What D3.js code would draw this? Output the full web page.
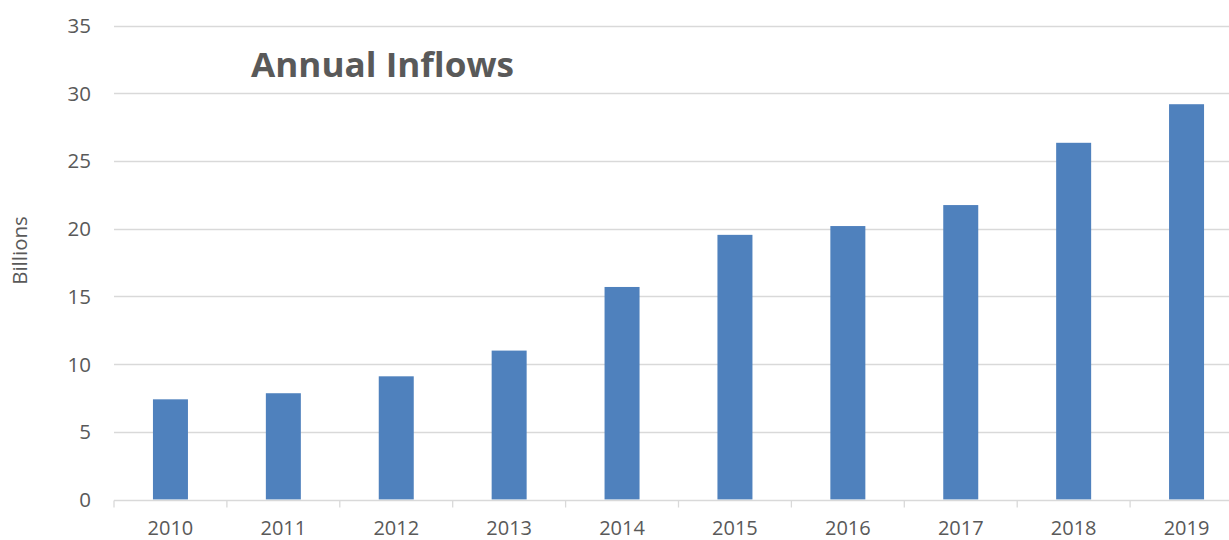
<!DOCTYPE html>
<html><head><meta charset="utf-8">
<script src="https://cdn.jsdelivr.net/npm/d3@7"></script>
<style>body{margin:0;background:#fff}svg{display:block}</style>
</head><body>
<svg id="c" width="1229" height="540"></svg>
<script>
const categories = ["2010","2011","2012","2013","2014","2015","2016","2017","2018","2019"];
const values = [7.4, 7.85, 9.1, 11.0, 15.7, 19.55, 20.2, 21.75, 26.35, 29.2];
const yTicks = [0,5,10,15,20,25,30,35];
const title = "Annual Inflows";
const yLabel = "Billions";

(function(){
const svg = d3.select("#c");
const pLeft = 114, pRight = 1243, pTop = 25.7, pBottom = 499.5;
const x = d3.scaleBand().domain(categories).range([pLeft, pRight]).padding(0);
const y = d3.scaleLinear().domain([0,35]).range([pBottom, pTop]);
const grey = "#d9d9d9", txt = "#595959";
const font = "'Open Sans', sans-serif";

svg.append("g").selectAll("line").data(yTicks.filter(d=>d>0)).join("line")
  .attr("x1", pLeft).attr("x2", pRight)
  .attr("y1", d=>Math.round(y(d))+0.5).attr("y2", d=>Math.round(y(d))+0.5)
  .attr("stroke", grey).attr("stroke-width", 1.3);

svg.append("g").selectAll("text").data(yTicks).join("text")
  .attr("x", 91).attr("y", d=>y(d)).attr("dy","0.36em")
  .attr("text-anchor","end").attr("fill",txt)
  .style("font-family",font).style("font-size","20.5px").text(d=>d);

const bw = x.bandwidth()*0.31;
svg.append("g").selectAll("rect").data(categories).join("rect")
  .attr("x", (d)=>x(d)+x.bandwidth()/2-bw/2)
  .attr("width", bw)
  .attr("y", (d,i)=>y(values[i]))
  .attr("height", (d,i)=>y(0)-y(values[i]))
  .attr("fill","#4f81bd");

const xa = svg.append("g").attr("transform",`translate(0,${Math.round(pBottom)+0.5})`);
xa.append("line").attr("x1",pLeft).attr("x2",pRight).attr("stroke",grey).attr("stroke-width",1.3);
const bounds = categories.map(c=>x(c)).concat([pRight]);
xa.selectAll("line.t").data(bounds).join("line").attr("class","t")
  .attr("x1",d=>d).attr("x2",d=>d).attr("y1",0).attr("y2",7)
  .attr("stroke",grey).attr("stroke-width",1.3);
svg.append("g").selectAll("text").data(categories).join("text")
  .attr("x", d=>x(d)+x.bandwidth()/2).attr("y", 534.5)
  .attr("text-anchor","middle").attr("fill",txt)
  .style("font-family",font).style("font-size","20px").text(d=>d);

svg.append("text").attr("transform","translate(26.5,250.5) rotate(-90)")
  .attr("text-anchor","middle").attr("fill",txt)
  .style("font-family",font).style("font-size","20.5px").text(yLabel);

svg.append("text").attr("x",251).attr("y",77).attr("fill",txt)
  .style("font-family",font).style("font-size","33.5px").style("font-weight","bold")
  .attr("textLength",263).attr("lengthAdjust","spacingAndGlyphs")
  .text(title);
})();
</script>
</body></html>
